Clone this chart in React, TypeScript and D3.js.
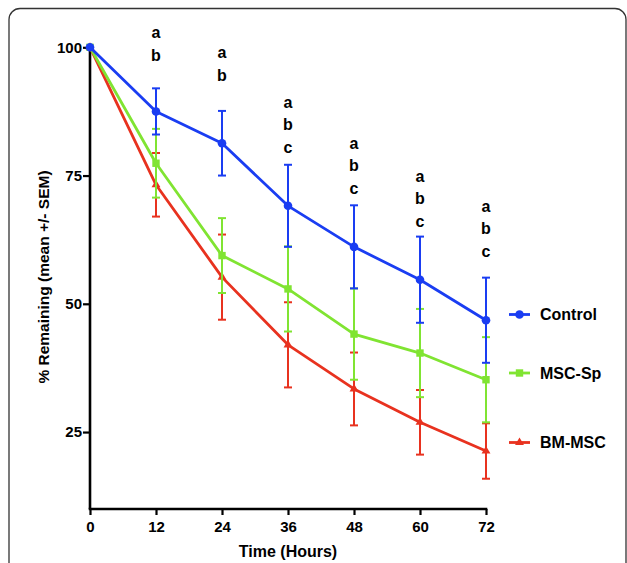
import React, { useEffect, useRef } from 'react';
import * as d3 from 'd3';

// time points (hours)
const hours = [0, 12, 24, 36, 48, 60, 72];

// % remaining, mean and SEM per group
const controlMean = [100, 87.5, 81.3, 69.1, 61.1, 54.7, 46.8];
const controlSem = [0, 4.5, 6.3, 8.0, 8.1, 8.4, 8.3];
const mscSpMean = [100, 77.4, 59.4, 52.9, 44.1, 40.4, 35.2];
const mscSpSem = [0, 6.7, 7.3, 8.3, 8.9, 8.6, 8.3];
const bmMscMean = [100, 73.2, 55.2, 42.0, 33.4, 26.9, 21.3];
const bmMscSem = [0, 6.2, 8.3, 8.3, 7.1, 6.3, 5.4];

// significance letters above the control bars (anchor = value of top letter)
const sigLetters = [[], ['a', 'b'], ['a', 'b'], ['a', 'b', 'c'], ['a', 'b', 'c'], ['a', 'b', 'c'], ['a', 'b', 'c']];
const sigAnchor = [null, 101.8, 97.9, 88.2, 80.2, 73.8, 67.9];

const yTicks = [25, 50, 75, 100];

const App = () => {
  const ref = useRef<SVGSVGElement>(null);

  const width = 627, height = 563;
  const FONT = '"Liberation Sans", Arial, Helvetica, sans-serif';

  const BLUE = '#1a3df2';
  const GREEN = '#80e432';
  const RED = '#e8321f';

  useEffect(() => {
    const svg = d3.select(ref.current);
    svg.selectAll('*').remove();

    const x = d3.scaleLinear().domain([0, 72]).range([90, 486]);
    const y = d3.scaleLinear().domain([10, 100]).range([509, 47.3]);

    // frame
    svg.append('rect')
      .attr('x', 9).attr('y', 8.5)
      .attr('width', 617).attr('height', 620)
      .attr('rx', 11)
      .attr('fill', 'none')
      .attr('stroke', '#333')
      .attr('stroke-width', 1.3);

    const series = [
      { name: 'BM-MSC', mean: bmMscMean, sem: bmMscSem, color: RED, shape: 'triangle' },
      { name: 'MSC-Sp', mean: mscSpMean, sem: mscSpSem, color: GREEN, shape: 'square' },
      { name: 'Control', mean: controlMean, sem: controlSem, color: BLUE, shape: 'circle' },
    ];

    const drawMarker = (g, shape, cx, cy, color) => {
      if (shape === 'circle') {
        g.append('circle').attr('cx', cx).attr('cy', cy).attr('r', 4.3).attr('fill', color);
      } else if (shape === 'square') {
        g.append('rect').attr('x', cx - 3.7).attr('y', cy - 3.7).attr('width', 7.4).attr('height', 7.4).attr('fill', color);
      } else {
        g.append('path')
          .attr('d', d3.symbol(d3.symbolTriangle, 34)())
          .attr('transform', `translate(${cx},${cy})`)
          .attr('fill', color);
      }
    };

    // axes
    const yAxis = svg.append('g')
      .attr('transform', 'translate(90,0)')
      .call(d3.axisLeft(y).tickValues(yTicks).tickSize(7).tickSizeOuter(0).tickPadding(1));
    yAxis.select('.domain').attr('stroke', '#000').attr('stroke-width', 2.6)
      .attr('d', `M0,${y(10)}V${y(100)}`);
    yAxis.selectAll('.tick line').attr('stroke', '#000').attr('stroke-width', 2.2);
    yAxis.selectAll('.tick text')
      .attr('font-family', FONT).attr('font-size', 15).attr('font-weight', 'bold').attr('fill', '#000');

    const xAxis = svg.append('g')
      .attr('transform', `translate(0,${y(10)})`)
      .call(d3.axisBottom(x).tickValues(hours).tickSize(6).tickSizeOuter(0).tickPadding(6));
    xAxis.select('.domain').attr('stroke', '#000').attr('stroke-width', 2.6)
      .attr('d', `M${x(0) - 1.3},0H${x(72) + 1.3}`);
    xAxis.selectAll('.tick line').attr('stroke', '#000').attr('stroke-width', 2.2);
    xAxis.selectAll('.tick text')
      .attr('font-family', FONT).attr('font-size', 15).attr('font-weight', 'bold').attr('fill', '#000');

    // axis titles
    svg.append('text')
      .attr('x', 288).attr('y', 557)
      .attr('text-anchor', 'middle')
      .attr('font-family', FONT).attr('font-size', 16).attr('font-weight', 'bold')
      .text('Time (Hours)');

    svg.append('text')
      .attr('transform', 'translate(49,277) rotate(-90)')
      .attr('text-anchor', 'middle')
      .attr('font-family', FONT).attr('font-size', 15.5).attr('font-weight', 'bold')
      .text('% Remaining (mean +/- SEM)');

    // series
    series.forEach(s => {
      const g = svg.append('g');
      const pts = hours.map((h, i) => ({ h, m: s.mean[i], e: s.sem[i] }));

      // error bars
      pts.filter(p => p.e > 0).forEach(p => {
        const px = x(p.h);
        const top = y(p.m + p.e), bot = y(p.m - p.e);
        g.append('line').attr('x1', px).attr('x2', px).attr('y1', top).attr('y2', bot)
          .attr('stroke', s.color).attr('stroke-width', 2);
        [top, bot].forEach(yy => {
          g.append('line').attr('x1', px - 4).attr('x2', px + 4).attr('y1', yy).attr('y2', yy)
            .attr('stroke', s.color).attr('stroke-width', 2);
        });
      });

      g.append('path')
        .datum(pts)
        .attr('d', d3.line().x(p => x(p.h)).y(p => y(p.m)))
        .attr('fill', 'none')
        .attr('stroke', s.color)
        .attr('stroke-width', 2.8)
        .attr('stroke-linejoin', 'round');

      pts.forEach(p => drawMarker(g, s.shape, x(p.h), y(p.m), s.color));
    });

    // significance letters
    hours.forEach((h, i) => {
      if (!sigLetters[i].length) return;
      sigLetters[i].forEach((l, j) => {
        svg.append('text')
          .attr('x', x(h)).attr('y', y(sigAnchor[i]) + j * 22.5)
          .attr('text-anchor', 'middle')
          .attr('font-family', FONT).attr('font-size', 16).attr('font-weight', 'bold')
          .text(l);
      });
    });

    // legend
    const legend = [
      { name: 'Control', color: BLUE, shape: 'circle', yy: 314.5 },
      { name: 'MSC-Sp', color: GREEN, shape: 'square', yy: 373 },
      { name: 'BM-MSC', color: RED, shape: 'triangle', yy: 442.5 },
    ];
    legend.forEach(l => {
      const g = svg.append('g');
      g.append('line').attr('x1', 509).attr('x2', 530).attr('y1', l.yy).attr('y2', l.yy)
        .attr('stroke', l.color).attr('stroke-width', 2.8);
      drawMarker(g, l.shape, 519.5, l.yy, l.color);
      g.append('text')
        .attr('x', 540).attr('y', l.yy).attr('dy', '0.36em')
        .attr('font-family', FONT).attr('font-size', 16).attr('font-weight', 'bold')
        .text(l.name);
    });
  }, []);

  return (
    <svg
      ref={ref}
      width={width}
      height={height}
      style={{ position: 'absolute', left: 0, top: 0, background: '#fff' }}
    />
  );
};

export default App;
